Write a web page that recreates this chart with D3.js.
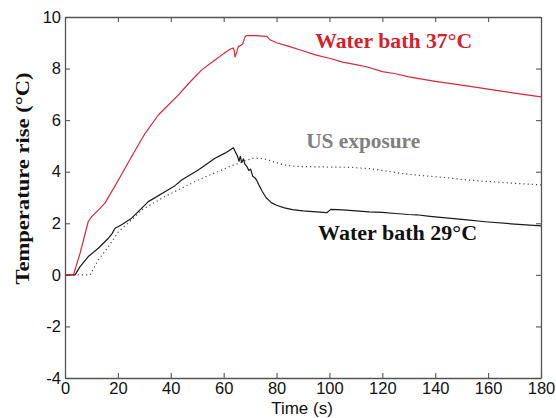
<!DOCTYPE html>
<html>
<head>
<meta charset="utf-8">
<script src="https://cdn.jsdelivr.net/npm/d3@7"></script>
<style>
  html, body { margin: 0; padding: 0; background: #fff; }
  svg { display: block; }
</style>
</head>
<body>
<svg id="chart" width="556" height="418"></svg>
<script>
// Temperature rise (°C) against time (s)
const xTicks = [0, 20, 40, 60, 80, 100, 120, 140, 160, 180];
const yTicks = [-4, -2, 0, 2, 4, 6, 8, 10];

// Water bath 37°C
const bath37Time = [0, 3.2, 5.7, 8.8, 10.1, 12.5, 15.1, 20.2, 25.2, 30.3, 35.3, 42.9, 47, 51.7, 56.7, 60, 62.4, 63.6, 64.0, 64.3, 64.8, 65.5, 66.5, 67.2, 68.1, 68.7, 72, 76.3, 77.5, 80, 85, 89, 95, 100, 105, 110, 114, 120, 125, 130, 140, 152, 160, 170, 180];
const bath37Rise = [0, 0, 0.84, 2.07, 2.26, 2.5, 2.78, 3.68, 4.59, 5.49, 6.2, 6.98, 7.45, 7.95, 8.33, 8.58, 8.75, 8.8, 8.7, 8.45, 8.6, 8.85, 8.9, 8.95, 9.24, 9.28, 9.28, 9.25, 9.12, 9.0, 8.85, 8.72, 8.52, 8.4, 8.25, 8.15, 8.07, 7.88, 7.8, 7.68, 7.5, 7.33, 7.2, 7.05, 6.9];

// Water bath 29°C
const bath29Time = [0, 3.8, 5.7, 8.8, 12.6, 16.4, 17.8, 18.9, 21.4, 25.2, 31.5, 37.8, 41.6, 44.1, 50.4, 56.7, 60.5, 63.7, 64.5, 65.2, 65.8, 66.3, 66.8, 67.5, 68, 68.8, 69.5, 70.2, 71, 72, 72.8, 73.5, 74.5, 76, 78, 80, 83, 86, 90, 95, 99, 100.5, 105, 110, 115, 120, 125, 130, 133, 138, 145, 152, 160, 170, 180];
const bath29Rise = [0, 0, 0.32, 0.71, 1.03, 1.42, 1.6, 1.81, 1.94, 2.2, 2.84, 3.22, 3.46, 3.68, 4.07, 4.52, 4.72, 4.93, 4.75, 4.62, 4.4, 4.6, 4.35, 4.5, 4.3, 4.2, 4.05, 4.1, 3.82, 3.75, 3.6, 3.45, 3.25, 3.0, 2.8, 2.7, 2.6, 2.53, 2.48, 2.44, 2.41, 2.54, 2.52, 2.48, 2.44, 2.42, 2.38, 2.34, 2.33, 2.27, 2.2, 2.13, 2.05, 1.97, 1.9];

// US exposure
const usTime = [0, 9.5, 12.6, 16.4, 20.2, 25.2, 29, 37.8, 50.4, 63.7, 66, 68, 71, 74, 76, 79, 82.5, 86, 89, 95, 100, 108, 115, 120, 126.7, 135, 145, 152, 160, 170, 180];
const usRise = [0, 0, 0.58, 1.09, 1.67, 2.13, 2.52, 3.04, 3.68, 4.26, 4.33, 4.42, 4.52, 4.52, 4.48, 4.38, 4.27, 4.22, 4.2, 4.19, 4.18, 4.17, 4.12, 4.05, 3.94, 3.85, 3.76, 3.68, 3.62, 3.55, 3.49];

const seriesLabels = ["Water bath 37°C", "US exposure", "Water bath 29°C"];

const svg = d3.select("#chart");
const plotLeft = 65, plotRight = 541, plotTop = 17, plotBottom = 378;

const x = d3.scaleLinear().domain([0, 180]).range([plotLeft, plotRight]);
const y = d3.scaleLinear().domain([-4, 10]).range([plotBottom, plotTop]);

const axisColor = "#555";
const tickFont = "'Liberation Sans', Arial, sans-serif";
const plainNumber = d => String(d);

function styleAxis(g) {
  g.select(".domain").attr("stroke", axisColor).attr("stroke-width", 1.3);
  g.selectAll(".tick line").attr("stroke", axisColor).attr("stroke-width", 1.1);
  g.selectAll(".tick text").attr("fill", "#111").attr("font-size", 16.5).attr("font-family", tickFont);
}

svg.append("g").attr("transform", `translate(0,${plotBottom})`)
  .call(d3.axisBottom(x).tickValues(xTicks).tickFormat(plainNumber).tickSizeInner(-5).tickSizeOuter(0).tickPadding(4))
  .call(styleAxis);
svg.append("g").attr("transform", `translate(0,${plotTop})`)
  .call(d3.axisTop(x).tickValues(xTicks).tickFormat("").tickSizeInner(-5).tickSizeOuter(0))
  .call(styleAxis);
svg.append("g").attr("transform", `translate(${plotLeft},0)`)
  .call(d3.axisLeft(y).tickValues(yTicks).tickFormat(plainNumber).tickSizeInner(-5).tickSizeOuter(0).tickPadding(4))
  .call(styleAxis);
svg.append("g").attr("transform", `translate(${plotRight},0)`)
  .call(d3.axisRight(y).tickValues(yTicks).tickFormat("").tickSizeInner(-5).tickSizeOuter(0))
  .call(styleAxis);

const line = d3.line().x(d => x(d[0])).y(d => y(d[1]));
const zip = (a, b) => a.map((t, i) => [t, b[i]]);

svg.append("path").datum(zip(usTime, usRise))
  .attr("fill", "none").attr("stroke", "#4a4a4a").attr("stroke-width", 1.2)
  .attr("stroke-dasharray", "1.2,3").attr("d", line);
svg.append("path").datum(zip(bath29Time, bath29Rise))
  .attr("fill", "none").attr("stroke", "#1a1a1a").attr("stroke-width", 1.2)
  .attr("stroke-linejoin", "round").attr("d", line);
svg.append("path").datum(zip(bath37Time, bath37Rise))
  .attr("fill", "none").attr("stroke", "#d8283a").attr("stroke-width", 1.2)
  .attr("stroke-linejoin", "round").attr("d", line);

// Series annotations placed beside their curves
const serif = "'Liberation Serif', 'Times New Roman', serif";
const notes = [
  { text: seriesLabels[0], color: "#d81e2c", t: 94.6, v: 8.78, len: 157 },
  { text: seriesLabels[1], color: "#808080", t: 91.2, v: 4.92, len: 114 },
  { text: seriesLabels[2], color: "#111111", t: 95.7, v: 1.36, len: 159 }
];
svg.selectAll("text.note").data(notes).enter().append("text")
  .attr("class", "note")
  .attr("x", d => x(d.t)).attr("y", d => y(d.v))
  .attr("fill", d => d.color)
  .attr("font-family", serif).attr("font-weight", "bold").attr("font-size", 20)
  .attr("textLength", d => d.len).attr("lengthAdjust", "spacingAndGlyphs")
  .text(d => d.text);

svg.append("text")
  .attr("transform", `translate(29,178.5) rotate(-90)`)
  .attr("text-anchor", "middle")
  .attr("font-family", serif).attr("font-weight", "bold").attr("font-size", 18.5)
  .attr("textLength", 212).attr("lengthAdjust", "spacingAndGlyphs")
  .attr("fill", "#111")
  .text("Temperature rise (°C)");

svg.append("text")
  .attr("x", 302).attr("y", 414)
  .attr("text-anchor", "middle")
  .attr("font-family", tickFont).attr("font-size", 17)
  .attr("fill", "#111")
  .text("Time (s)");
</script>
</body>
</html>
